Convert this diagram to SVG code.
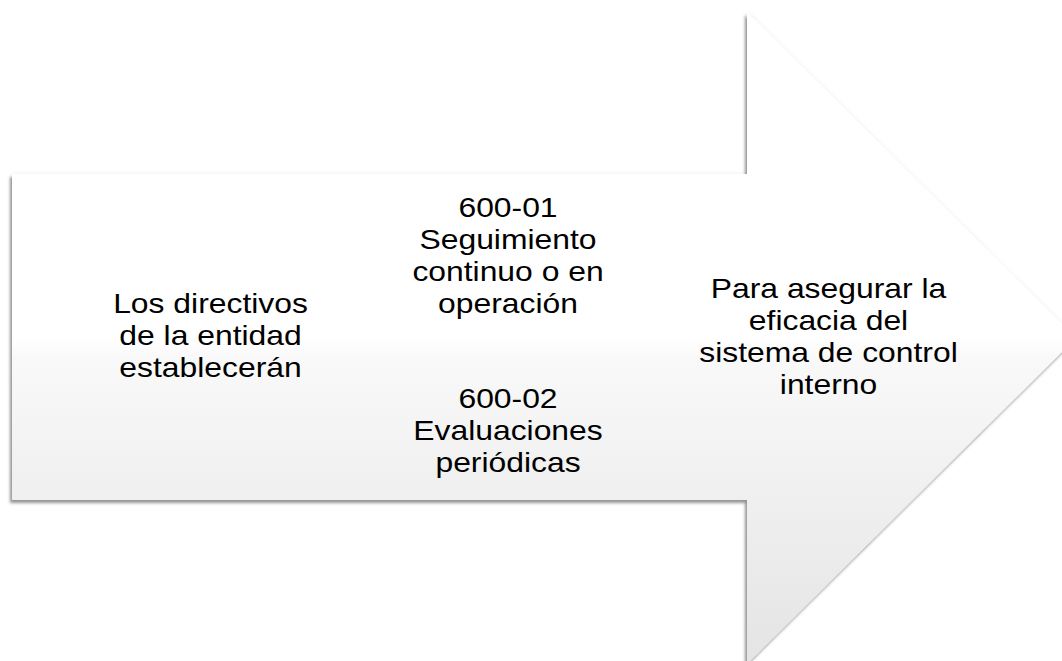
<svg xmlns="http://www.w3.org/2000/svg" width="1062" height="661" viewBox="0 0 1062 661">
  <style>
    .t { font-family: "Liberation Sans", Arial, sans-serif; font-size: 27px; fill: #000; text-anchor: middle; }
  </style>
  <defs>
    <linearGradient id="fill" gradientUnits="userSpaceOnUse" x1="0" y1="12" x2="0" y2="664">
      <stop offset="0" stop-color="#ffffff"/>
      <stop offset="0.5" stop-color="#ffffff"/>
      <stop offset="0.53" stop-color="#f9f9f9"/>
      <stop offset="1" stop-color="#e4e4e4"/>
    </linearGradient>
    <filter id="shadow" x="-5%" y="-5%" width="110%" height="110%">
      <feGaussianBlur in="SourceAlpha" stdDeviation="1.5" result="b"/>
      <feOffset in="b" dx="-2" dy="3" result="o"/>
      <feFlood flood-color="#000" flood-opacity="0.4"/>
      <feComposite in2="o" operator="in" result="s"/>
      <feGaussianBlur in="SourceAlpha" stdDeviation="2" result="g"/>
      <feFlood flood-color="#000" flood-opacity="0.08"/>
      <feComposite in2="g" operator="in" result="gl"/>
      <feMerge>
        <feMergeNode in="gl"/>
        <feMergeNode in="s"/>
        <feMergeNode in="SourceGraphic"/>
      </feMerge>
    </filter>
  </defs>
  <rect width="1062" height="661" fill="#ffffff"/>
  <g id="arrow">
    <polygon points="12,174 747,174 747,12 1076,338 747,664 747,500 12,500" fill="url(#fill)" filter="url(#shadow)"/>
  </g>
  <g id="connectors"/>
  <g id="node-left" transform="translate(210.5,0) scale(1.18,1)">
    <text class="t" x="0" y="313">Los directivos</text>
    <text class="t" x="0" y="345">de la entidad</text>
    <text class="t" x="0" y="377">establecerán</text>
  </g>
  <g id="node-600-01" transform="translate(508,0) scale(1.18,1)">
    <text class="t" x="0" y="217">600-01</text>
    <text class="t" x="0" y="249">Seguimiento</text>
    <text class="t" x="0" y="281">continuo o en</text>
    <text class="t" x="0" y="313">operación</text>
  </g>
  <g id="node-600-02" transform="translate(508,0) scale(1.18,1)">
    <text class="t" x="0" y="408">600-02</text>
    <text class="t" x="0" y="440">Evaluaciones</text>
    <text class="t" x="0" y="472">periódicas</text>
  </g>
  <g id="node-right" transform="translate(828.5,0) scale(1.18,1)">
    <text class="t" x="0" y="298">Para asegurar la</text>
    <text class="t" x="0" y="330">eficacia del</text>
    <text class="t" x="0" y="362">sistema de control</text>
    <text class="t" x="0" y="394">interno</text>
  </g>
</svg>
